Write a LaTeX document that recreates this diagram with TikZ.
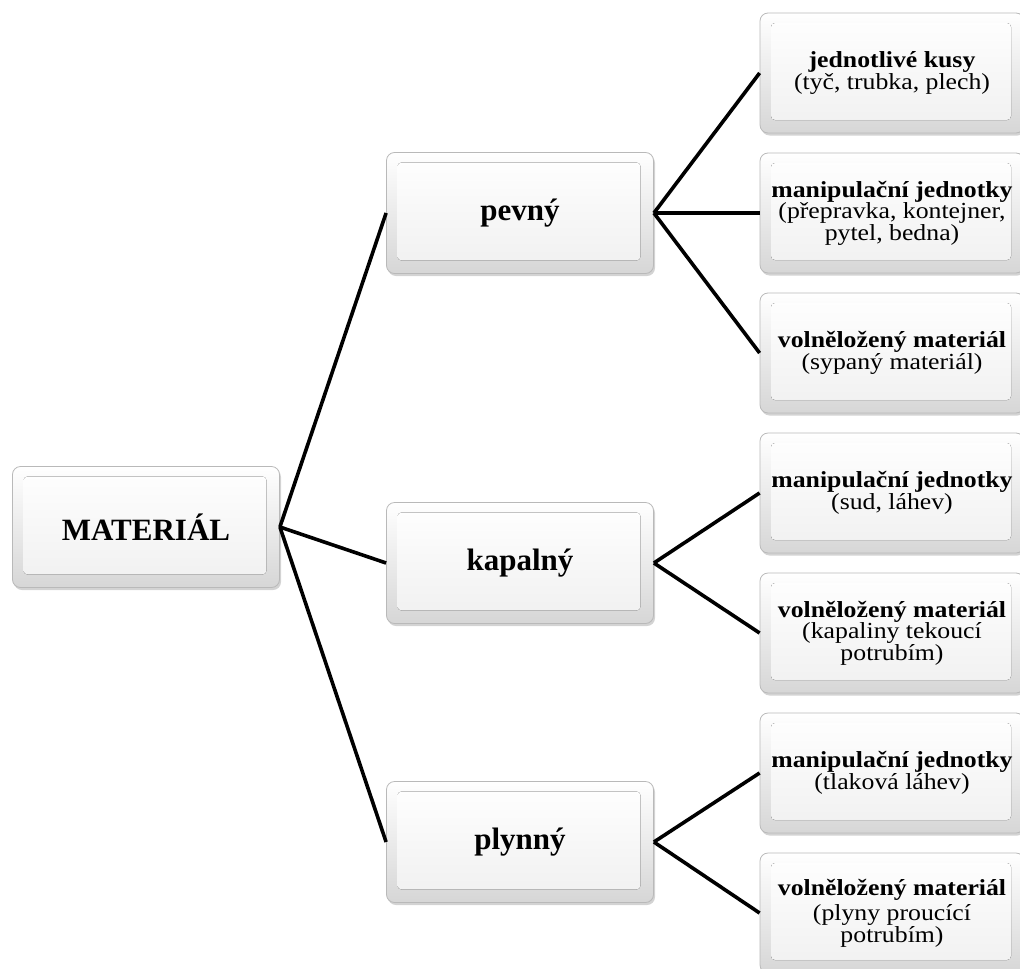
\documentclass[tikz,border=0pt]{standalone}
\usepackage{fontspec}
\setmainfont{Liberation Serif}
\newfontfamily\leaffont[FakeStretch=1.12]{Liberation Serif}
\usepackage{tikz}
\usetikzlibrary{calc,shadows}
\tikzset{>=latex}
\tikzset{
  bevelbox/.style={rectangle,rounded corners=8pt,draw=gray!55,line width=0.8pt,
    top color=white,bottom color=gray!32,inner sep=0pt,align=center,
    drop shadow={opacity=0.35,shadow xshift=1.5pt,shadow yshift=-2.5pt},
    path picture={\fill[top color=white,bottom color=gray!12,rounded corners=4pt]
      ([shift={(11pt,-10pt)}]path picture bounding box.north west) rectangle
      ([shift={(-13pt,13pt)}]path picture bounding box.south east);}},
  topbox/.style={bevelbox,minimum width=267pt,minimum height=121pt,
    font=\fontsize{31}{31}\selectfont\bfseries},
  leafbox/.style={bevelbox,minimum width=264pt,minimum height=120pt,
    font=\leaffont\fontsize{23}{21.5}\selectfont}
}

\begin{document}
\begin{tikzpicture}[x=1pt,y=-1pt,line width=3.6pt]
\useasboundingbox (0,0) rectangle (1020,969);

\node [topbox] (m) at (146,527) {MATERIÁL};
\node [topbox] (pev) at (520,213) {pevný};
\node [topbox] (kap) at (520,563) {kapalný};
\node [topbox] (ply) at (520,842) {plynný};

\node [leafbox] (pev1) at (892,73) {\textbf{jednotlivé kusy}\\(tyč, trubka, plech)};
\node [leafbox] (pev2) at (892,213) {\textbf{manipulační jednotky}\\(přepravka, kontejner,\\pytel, bedna)};
\node [leafbox] (pev3) at (892,353) {\textbf{volněložený materiál}\\(sypaný materiál)};
\node [leafbox] (kap1) at (892,493) {\textbf{manipulační jednotky}\\(sud, láhev)};
\node [leafbox] (kap2) at (892,633) {\textbf{volněložený materiál}\\(kapaliny tekoucí\\potrubím)};
\node [leafbox] (ply1) at (892,773) {\textbf{manipulační jednotky}\\(tlaková láhev)};
\node [leafbox] (ply2) at (892,913) {\textbf{volněložený materiál}\\[4pt](plyny proucící\\potrubím)};

\begin{scope}[line width=3.6pt]
\draw[-,color=black] (m.east) to (pev.west);
\draw[-,color=black] (m.east) to (kap.west);
\draw[-,color=black] (m.east) to (ply.west);
\draw[-,color=black] (pev.east) to (pev1.west);
\draw[-,color=black] (pev.east) to (pev2.west);
\draw[-,color=black] (pev.east) to (pev3.west);
\draw[-,color=black] (kap.east) to (kap1.west);
\draw[-,color=black] (kap.east) to (kap2.west);
\draw[-,color=black] (ply.east) to (ply1.west);
\draw[-,color=black] (ply.east) to (ply2.west);
\end{scope}

\end{tikzpicture}
\end{document}
